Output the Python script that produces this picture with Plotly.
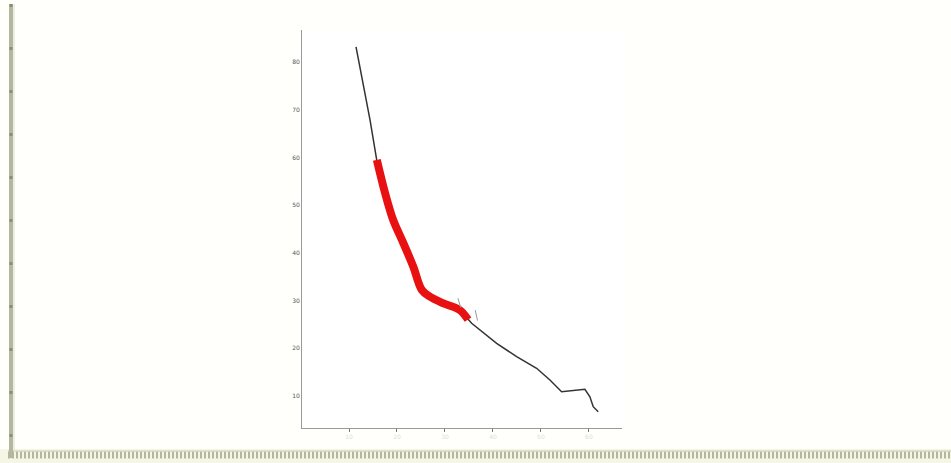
import plotly.graph_objects as go

# Values (axis units)
line_x = [1.146, 1.265, 1.4375, 1.577, 1.75, 1.923, 2.131, 2.34, 2.515, 2.6875,
          2.965, 3.3125, 3.556, 4.077, 4.494, 4.91, 5.1875, 5.431, 5.917, 6.021, 6.09, 6.194]
line_y = [8.317, 7.694, 6.786, 5.948, 5.256, 4.69, 4.208, 3.711, 3.222, 3.082,
          2.943, 2.803, 2.524, 2.105, 1.824, 1.581, 1.335, 1.09, 1.14, 0.985, 0.776, 0.67]

band_x = [1.58, 1.75, 1.92, 2.13, 2.34, 2.52, 2.69, 2.97, 3.31, 3.48]
band_y = [5.95, 5.26, 4.69, 4.21, 3.71, 3.22, 3.08, 2.94, 2.80, 2.60]

mark1_x = [3.27, 3.33]
mark1_y = [3.05, 2.85]
mark2_x = [3.63, 3.68]
mark2_y = [2.80, 2.58]

x_ticks = [1, 2, 3, 4, 5, 6]
x_labels = ["10", "20", "30", "40", "50", "60"]
y_ticks = [1, 2, 3, 4, 5, 6, 7, 8]
y_labels = ["10", "20", "30", "40", "50", "60", "70", "80"]

W, H = 951, 463
L, R, T, B = 302, 329, 30, 35

fig = go.Figure()
fig.add_trace(go.Scatter(x=line_x, y=line_y, mode="lines",
                         line=dict(color="#333333", width=1.5), hoverinfo="skip"))
fig.add_trace(go.Scatter(x=band_x, y=band_y, mode="lines",
                         line=dict(color="#e81010", width=8, shape="spline"), hoverinfo="skip"))
fig.add_trace(go.Scatter(x=mark1_x, y=mark1_y, mode="lines",
                         line=dict(color="#999999", width=1), hoverinfo="skip"))
fig.add_trace(go.Scatter(x=mark2_x, y=mark2_y, mode="lines",
                         line=dict(color="#999999", width=1), hoverinfo="skip"))

pw = W - L - R
ph = H - T - B
def px_x(p):
    return (p - L) / pw
def px_y(p):
    return (H - B - p) / ph

fig.update_layout(
    width=W, height=H,
    margin=dict(l=L, r=R, t=T, b=B),
    paper_bgcolor="#fffffb",
    plot_bgcolor="#ffffff",
    showlegend=False,
    xaxis=dict(range=[0.02, 6.69], tickvals=x_ticks, ticktext=x_labels,
               showgrid=False, zeroline=False, showline=True, linecolor="#999999",
               linewidth=1, ticks="outside", ticklen=3, tickcolor="#777777",
               tickfont=dict(size=6, color="#dddddd", family="DejaVu Sans")),
    yaxis=dict(range=[0.33, 8.67], tickvals=y_ticks, ticktext=y_labels,
               showgrid=False, zeroline=False, showline=True, linecolor="#999999",
               linewidth=1, ticks="", tickfont=dict(size=6, color="#555555", family="DejaVu Sans")),
    shapes=[
        dict(type="rect", xref="paper", yref="paper", x0=px_x(0), x1=px_x(951), y0=px_y(463), y1=px_y(449),
             fillcolor="#f6f6e6", line=dict(width=0), layer="below"),
        dict(type="line", xref="paper", yref="paper", x0=px_x(8), x1=px_x(951), y0=px_y(455), y1=px_y(455),
             line=dict(color="#b4b79e", width=7, dash="2px,2px")),
        dict(type="line", xref="paper", yref="paper", x0=px_x(8), x1=px_x(951), y0=px_y(451), y1=px_y(451),
             line=dict(color="#c8cab4", width=1)),
        dict(type="line", xref="paper", yref="paper", x0=px_x(11), x1=px_x(11), y0=px_y(4), y1=px_y(458),
             line=dict(color="#b3b79e", width=4)),
        dict(type="line", xref="paper", yref="paper", x0=px_x(11), x1=px_x(11), y0=px_y(4), y1=px_y(458),
             line=dict(color="#8a8e78", width=3, dash="3px,40px")),
        dict(type="line", xref="paper", yref="paper", x0=px_x(14), x1=px_x(14), y0=px_y(4), y1=px_y(450),
             line=dict(color="#dcdccc", width=1)),
    ],
)

fig.write_html("out.html", config={"displayModeBar": False},
               post_script="document.body.style.margin='0';document.body.style.overflow='hidden';")
